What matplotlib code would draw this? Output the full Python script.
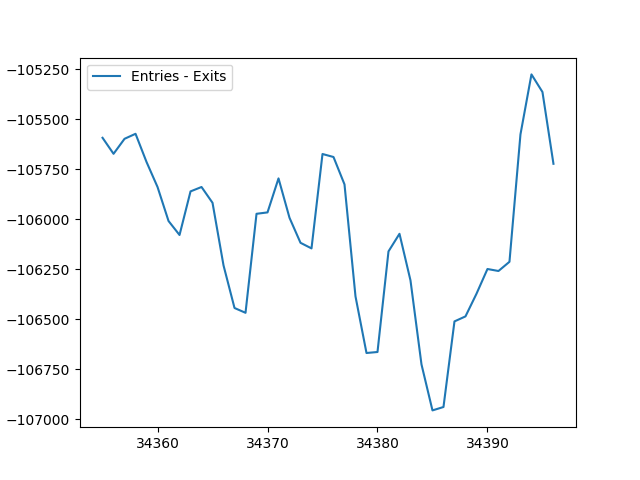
import matplotlib
matplotlib.use("Agg")
import matplotlib.pyplot as plt

# Day index and net entries minus exits
days = list(range(34355, 34397))
net_flow = [
    -105592, -105672, -105597, -105572, -105713, -105838, -106008, -106078,
    -105860, -105838, -105917, -106230, -106443, -106467, -105972, -105965,
    -105795, -105992, -106117, -106145, -105673, -105688, -105825, -106385,
    -106668, -106663, -106160, -106072, -106305, -106725, -106955, -106938,
    -106510, -106485, -106372, -106248, -106258, -106212, -105575, -105275,
    -105363, -105722,
]

fig, ax = plt.subplots(figsize=(6.4, 4.8), dpi=100)
ax.plot(days, net_flow, label="Entries - Exits")
ax.legend(loc="upper left")
fig.savefig("out.png")
